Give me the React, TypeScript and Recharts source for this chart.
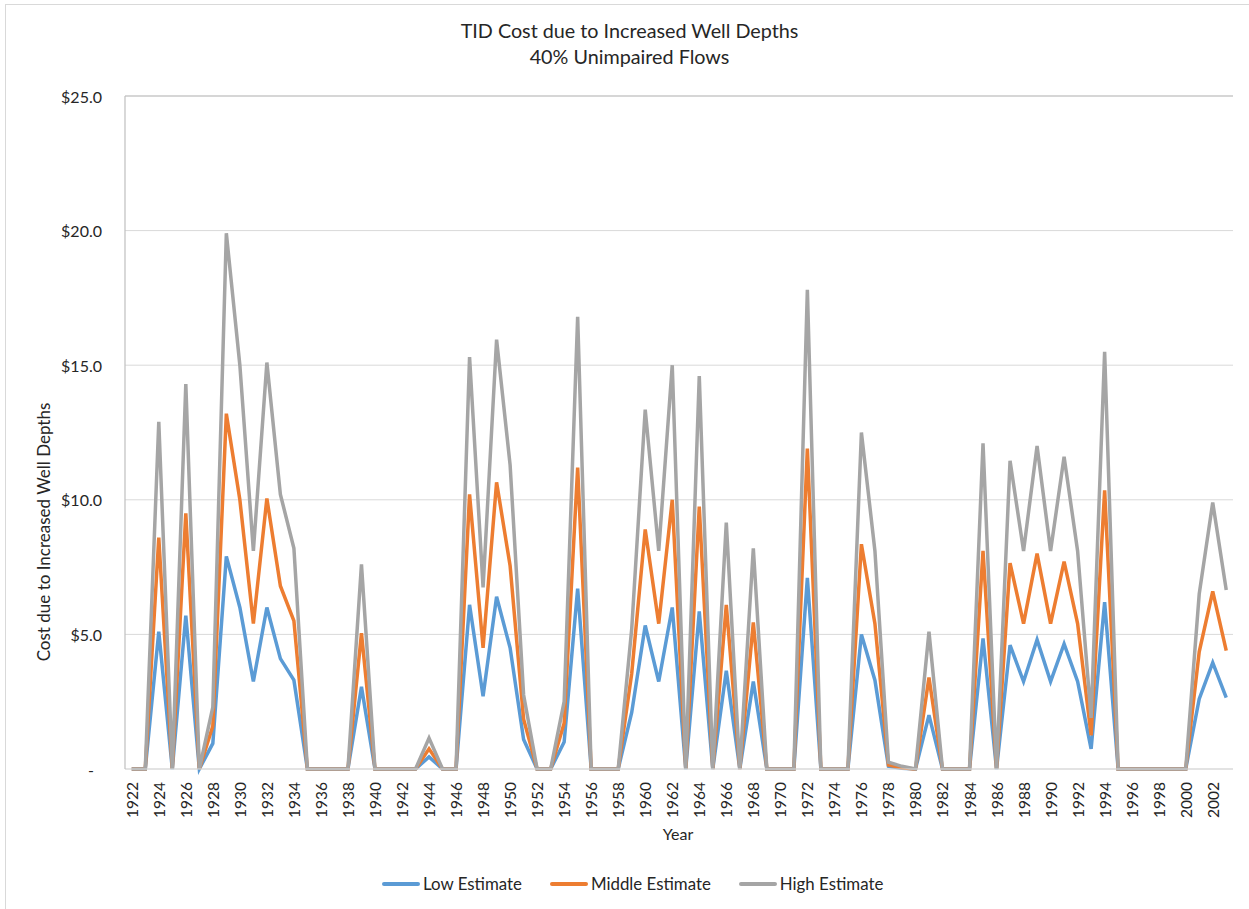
import { LineChart, Line, XAxis, YAxis, CartesianGrid, ReferenceLine } from 'recharts';

const years = [
  '1922', '1923', '1924', '1925', '1926', '1927', '1928', '1929', '1930', '1931',
  '1932', '1933', '1934', '1935', '1936', '1937', '1938', '1939', '1940', '1941',
  '1942', '1943', '1944', '1945', '1946', '1947', '1948', '1949', '1950', '1951',
  '1952', '1953', '1954', '1955', '1956', '1957', '1958', '1959', '1960', '1961',
  '1962', '1963', '1964', '1965', '1966', '1967', '1968', '1969', '1970', '1971',
  '1972', '1973', '1974', '1975', '1976', '1977', '1978', '1979', '1980', '1981',
  '1982', '1983', '1984', '1985', '1986', '1987', '1988', '1989', '1990', '1991',
  '1992', '1993', '1994', '1995', '1996', '1997', '1998', '1999', '2000', '2001',
  '2002', '2003',
];

const lowEstimate = [
  0, 0, 5.1, 0, 5.7, 0, 0.95, 7.9, 6.0, 3.25,
  6.0, 4.1, 3.3, 0, 0, 0, 0, 3.05, 0, 0,
  0, 0, 0.45, 0, 0, 6.1, 2.7, 6.4, 4.5, 1.1,
  0, 0, 1.0, 6.7, 0, 0, 0, 2.1, 5.33, 3.25,
  6.0, 0, 5.85, 0, 3.65, 0, 3.25, 0, 0, 0,
  7.1, 0, 0, 0, 5.0, 3.3, 0.1, 0.03, 0, 2.0,
  0, 0, 0, 4.85, 0, 4.6, 3.25, 4.8, 3.25, 4.65,
  3.25, 0.75, 6.2, 0, 0, 0, 0, 0, 0, 2.6,
  3.95, 2.65,
];

const middleEstimate = [
  0, 0, 8.6, 0, 9.5, 0, 1.6, 13.2, 10.0, 5.4,
  10.05, 6.8, 5.5, 0, 0, 0, 0, 5.05, 0, 0,
  0, 0, 0.75, 0, 0, 10.2, 4.5, 10.65, 7.55, 1.85,
  0, 0, 1.7, 11.2, 0, 0, 0, 3.55, 8.9, 5.4,
  10.0, 0, 9.75, 0, 6.1, 0, 5.45, 0, 0, 0,
  11.9, 0, 0, 0, 8.35, 5.4, 0.15, 0.05, 0, 3.4,
  0, 0, 0, 8.1, 0, 7.65, 5.4, 8.0, 5.4, 7.7,
  5.4, 1.25, 10.35, 0, 0, 0, 0, 0, 0, 4.35,
  6.6, 4.4,
];

const highEstimate = [
  0, 0, 12.9, 0, 14.3, 0, 2.3, 19.9, 15.0, 8.1,
  15.1, 10.2, 8.2, 0, 0, 0, 0, 7.6, 0, 0,
  0, 0, 1.15, 0, 0, 15.3, 6.75, 15.95, 11.3, 2.75,
  0, 0, 2.5, 16.8, 0, 0, 0, 5.2, 13.35, 8.1,
  15.0, 0, 14.6, 0, 9.15, 0, 8.2, 0, 0, 0,
  17.8, 0, 0, 0, 12.5, 8.1, 0.25, 0.1, 0, 5.1,
  0, 0, 0, 12.1, 0, 11.45, 8.1, 12.0, 8.1, 11.6,
  8.1, 1.9, 15.5, 0, 0, 0, 0, 0, 0, 6.5,
  9.9, 6.65,
];

const yTicks = [0, 5, 10, 15, 20, 25];

const seriesInfo = [
  { key: 'low', name: 'Low Estimate', color: '#5B9BD5' },
  { key: 'middle', name: 'Middle Estimate', color: '#ED7D31' },
  { key: 'high', name: 'High Estimate', color: '#A5A5A5' },
];

const data = years.map((year, i) => ({
  year,
  low: lowEstimate[i],
  middle: middleEstimate[i],
  high: highEstimate[i],
}));

const FONT = 'Lato, "Open Sans", sans-serif';

function YearTick({ x, y, payload }: any) {
  return (
    <text
      x={x}
      y={y}
      transform={`rotate(-90, ${x}, ${y})`}
      textAnchor="end"
      dominantBaseline="central"
      fontSize={15.5}
      fontFamily={FONT}
      fill="#262626"
    >
      {payload.value}
    </text>
  );
}

function CostTick({ x, y, payload }: any) {
  const v = payload.value;
  if (v === 0) {
    return (
      <text x={x - 11} y={y} textAnchor="middle" dominantBaseline="central" fontSize={16} fontFamily={FONT} fill="#262626">
        -
      </text>
    );
  }
  return (
    <text x={x} y={y} textAnchor="end" dominantBaseline="central" fontSize={16} fontFamily={FONT} fill="#262626">
      {`$${v.toFixed(1)}`}
    </text>
  );
}

export default function App() {
  return (
    <div style={{ position: 'absolute', left: 0, top: 0, width: 1249, height: 909, overflow: 'hidden', background: '#fff', fontFamily: FONT, color: '#262626' }}>
      <div style={{ position: 'absolute', left: 5, top: 4, width: 1400, height: 1100, border: '1.5px solid #D9D9D9' }} />

      <div style={{ position: 'absolute', left: 0, top: 18, width: 1259, textAlign: 'center', fontSize: 19.75, lineHeight: '26px' }}>
        TID Cost due to Increased Well Depths
        <br />
        40% Unimpaired Flows
      </div>

      <LineChart
        width={1249}
        height={909}
        data={data}
        margin={{ top: 96, right: 16, bottom: 0, left: 0 }}
        style={{ position: 'absolute', left: 0, top: 0 }}
      >
        <CartesianGrid horizontal vertical={false} stroke="#D9D9D9" strokeWidth={1} />
        <ReferenceLine y={25} stroke="#BFBFBF" strokeWidth={1.2} />
        <XAxis
          dataKey="year"
          interval={1}
          height={140}
          tickLine={false}
          tickSize={0}
          tickMargin={13}
          axisLine={{ stroke: '#D9D9D9', strokeWidth: 1.2 }}
          padding={{ left: 6.76, right: 6.76 }}
          tick={<YearTick />}
        />
        <YAxis
          domain={[0, 25]}
          ticks={yTicks}
          width={125}
          tickLine={false}
          tickSize={0}
          tickMargin={23}
          axisLine={{ stroke: '#BFBFBF', strokeWidth: 1.2 }}
          tick={<CostTick />}
        />
        <YAxis
          yAxisId="border"
          orientation="right"
          width={0}
          domain={[0, 25]}
          tick={false}
          tickLine={false}
          axisLine={{ stroke: '#BFBFBF', strokeWidth: 1.2 }}
        />
        {seriesInfo.map((s) => (
          <Line
            key={s.key}
            type="linear"
            dataKey={s.key}
            name={s.name}
            stroke={s.color}
            strokeWidth={3.5}
            dot={false}
            activeDot={false}
            isAnimationActive={false}
          />
        ))}
      </LineChart>

      <div
        style={{
          position: 'absolute',
          left: 43,
          top: 532,
          transform: 'translate(-50%, -50%) rotate(-90deg)',
          whiteSpace: 'nowrap',
          fontSize: 17,
        }}
      >
        Cost due to Increased Well Depths
      </div>

      <div style={{ position: 'absolute', left: 0, top: 824, width: 1356, textAlign: 'center', fontSize: 16 }}>Year</div>

      <div style={{ position: 'absolute', left: 382, top: 873, display: 'flex', alignItems: 'center', fontSize: 16.85, whiteSpace: 'nowrap' }}>
        {seriesInfo.map((s, i) => (
          <div key={s.key} style={{ display: 'flex', alignItems: 'center', marginRight: i < 2 ? 28 : 0 }}>
            <div style={{ width: 38, height: 4, borderRadius: 2, background: s.color, marginRight: 3 }} />
            <span>{s.name}</span>
          </div>
        ))}
      </div>
    </div>
  );
}
